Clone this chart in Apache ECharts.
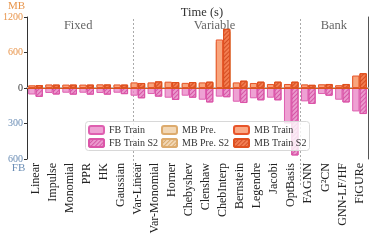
<!DOCTYPE html>
<html>
<head>
<meta charset="utf-8">
<script src="https://cdn.jsdelivr.net/npm/echarts@6/dist/echarts.min.js"></script>
<style>html,body{margin:0;padding:0;background:#fff}#c{width:372px;height:241px}</style>
</head>
<body>
<div id="c"></div>
<script>
const categories = ['Linear','Impulse','Monomial','PPR','HK','Gaussian','Var-Linear','Var-Monomial','Horner','Chebyshev','Clenshaw','ChebInterp','Bernstein','Legendre','Jacobi','OptBasis','FAGNN','G\u00b2CN','GNN-LF/HF','FiGURe'];
const mbTrain   = [45, 60, 58, 58, 62, 60, 95, 95, 107, 87, 95, 820, 95, 85, 68, 68, 61, 63, 47, 211];
const mbTrainS2 = [50, 58, 58, 58, 60, 58, 85, 112, 101, 101, 107, 1000, 124, 107, 107, 107, 54, 68, 68, 250];
const mbPre     = [40, 52, 50, 50, 55, 52, 85, 85, 95, 78, 85, 780, 85, 75, 60, 60, 55, 55, 40, 195];
const mbPreS2   = [44, 50, 50, 50, 52, 50, 76, 100, 92, 92, 96, 960, 112, 96, 96, 96, 48, 60, 60, 232];
const fbTrain   = [55, 42, 40, 40, 42, 40, 65, 51, 82, 65, 99, 73, 116, 87, 82, 300, 113, 51, 99, 198];
const fbTrainS2 = [75, 55, 56, 56, 56, 52, 87, 73, 101, 82, 122, 78, 127, 104, 104, 570, 135, 65, 122, 220];
const groups = [['Fixed','Linear','Gaussian'],['Variable','Var-Linear','OptBasis'],['Bank','FAGNN','FiGURe']];
const dividers = [5.75, 15.5];
const mbMax = 1200, fbMax = 600;
const fbScale = mbMax / fbMax;

const FONT = 'Liberation Serif';
const hatch = (c) => ({symbol:'rect', symbolSize:1, dashArrayX:[1,0], dashArrayY:[1,1.6], rotation:-Math.PI/4, color:c});

const fbTrainNeg = fbTrain.map(v => -v * fbScale);
const fbTrainS2Neg = fbTrainS2.map(v => -v * fbScale);

const barW = 7.3;
const base = {type:'bar', barWidth:barW, barGap:'0%', barCategoryGap:'12%'};

const chart = echarts.init(document.getElementById('c'), null, {renderer:'canvas'});
chart.setOption({
  animation:false,
  textStyle:{fontFamily:FONT},
  title:{text:'Time (s)', left:197, textAlign:'center', top:1, textStyle:{fontFamily:FONT, fontSize:12.5, fontWeight:'normal', color:'#333'}},
  grid:[{left:27, right:4, top:17, bottom:82, containLabel:false},
        {left:27, right:4, top:17, bottom:56, containLabel:false}],
  xAxis:[
    {type:'category', gridIndex:0, data:categories, position:'bottom',
     axisLine:{lineStyle:{color:'#333', width:1}}, axisTick:{show:true, length:2, alignWithLabel:true, lineStyle:{color:'#333'}},
     axisLabel:{rotate:90, interval:0, fontSize:12, color:'#222', fontFamily:FONT, margin:4}},
    {type:'category', gridIndex:0, data:categories, position:'top',
     axisLine:{show:true, lineStyle:{color:'#b5b5b5', width:2}}, axisTick:{show:false}, axisLabel:{show:false}},
    {type:'value', gridIndex:1, min:-0.5, max:categories.length-0.5, show:false}
  ],
  yAxis:[
    {type:'value', gridIndex:0, min:-mbMax, max:mbMax, interval:600, name:'MB', nameLocation:'end', nameGap:2,
     nameTextStyle:{color:'#e8944a', fontFamily:FONT, fontSize:11, align:'center', padding:[0,21,0,0]},
     axisLine:{show:true, lineStyle:{color:'#333'}}, axisTick:{show:true, length:3, lineStyle:{color:'#333'}},
     splitLine:{show:false},
     axisLabel:{fontFamily:FONT, fontSize:10, margin:4,
       formatter:(v)=> v>0 ? '{mb|'+v+'}' : (v<0 ? '{fb|'+(-v/fbScale)+'}' : '{z|0}'),
       rich:{mb:{color:'#e8944a', fontFamily:FONT, fontSize:10}, fb:{color:'#6a8db5', fontFamily:FONT, fontSize:10}, z:{color:'#333', fontFamily:FONT, fontSize:10}}}},
    {type:'value', gridIndex:0, min:-mbMax, max:mbMax, position:'right',
     axisLine:{show:true, lineStyle:{color:'#555'}}, axisTick:{show:false}, axisLabel:{show:false}, splitLine:{show:false}},
    {type:'value', gridIndex:1, min:0, max:1, show:false},
    {type:'value', gridIndex:0, min:-mbMax, max:mbMax, position:'left', name:'FB', nameLocation:'start', nameGap:4,
     nameTextStyle:{color:'#6a8db5', fontFamily:FONT, fontSize:11, align:'center', padding:[0,17,0,0]},
     axisLine:{show:false}, axisTick:{show:false}, axisLabel:{show:false}, splitLine:{show:false}}
  ],
  legend:[
    {orient:'vertical', left:88, top:125, itemGap:3, itemWidth:15, itemHeight:8, data:['FB Train','FB Train S2'],
     textStyle:{fontFamily:FONT, fontSize:10, color:'#333'}, padding:0, z:5},
    {orient:'vertical', left:161, top:125, itemGap:3, itemWidth:15, itemHeight:8, data:['MB Pre.','MB Pre. S2'],
     textStyle:{fontFamily:FONT, fontSize:10, color:'#333'}, padding:0, z:5},
    {orient:'vertical', left:233, top:125, itemGap:3, itemWidth:15, itemHeight:8, data:['MB Train','MB Train S2'],
     textStyle:{fontFamily:FONT, fontSize:10, color:'#333'}, padding:0, z:5}
  ],
  graphic:[{type:'rect', left:85, top:121, shape:{width:224, height:29, r:3}, z:4,
            style:{fill:'rgba(255,255,255,0.8)', stroke:'#d8d8d8', lineWidth:1}}],
  series:[
    Object.assign({}, base, {name:'MB Pre.', xAxisIndex:1, yAxisIndex:0, stack:'p1', data:mbPre, z:1,
      itemStyle:{color:'rgba(236,198,150,0.7)', borderColor:'#ddab6d', borderWidth:1}}),
    Object.assign({}, base, {name:'MB Pre. S2', xAxisIndex:1, yAxisIndex:0, stack:'p2', data:mbPreS2, z:1,
      itemStyle:{color:'rgba(236,198,150,0.7)', borderColor:'#ddab6d', borderWidth:1, decal:hatch('rgba(200,140,60,0.6)')}}),
    Object.assign({}, base, {name:'FB Train', xAxisIndex:0, yAxisIndex:0, stack:'a', data:fbTrainNeg, z:2,
      itemStyle:{color:'rgba(232,130,196,0.75)', borderColor:'#df5fb0', borderWidth:1}}),
    Object.assign({}, base, {name:'MB Train', xAxisIndex:0, yAxisIndex:0, stack:'a', data:mbTrain, z:2,
      itemStyle:{color:'rgba(250,160,120,0.9)', borderColor:'#e8552a', borderWidth:1},
      markArea:{silent:true, itemStyle:{color:'rgba(0,0,0,0)'},
        label:{position:'insideTop', distance:2, fontFamily:FONT, fontSize:12.5, color:'#666'},
        data: groups.map(g => [{name:g[0], xAxis:g[1]}, {xAxis:g[2]}])}}),
    Object.assign({}, base, {name:'FB Train S2', xAxisIndex:0, yAxisIndex:0, stack:'b', data:fbTrainS2Neg, z:2,
      itemStyle:{color:'rgba(228,120,190,0.75)', borderColor:'#db55a8', borderWidth:1, decal:hatch('rgba(205,60,150,0.7)')}}),
    Object.assign({}, base, {name:'MB Train S2', xAxisIndex:0, yAxisIndex:0, stack:'b', data:mbTrainS2, z:2,
      itemStyle:{color:'rgba(242,120,75,0.95)', borderColor:'#e0501f', borderWidth:1, decal:hatch('rgba(200,60,20,0.7)')},
      markLine:{silent:true, symbol:'none', z:6, label:{show:false},
        lineStyle:{color:'#d9541e', width:1, type:'solid'}, data:[{yAxis:0}]}}),
    {type:'line', xAxisIndex:2, yAxisIndex:2, data:[], silent:true,
     markLine:{silent:true, symbol:'none', label:{show:false}, z:1,
       lineStyle:{color:'#aaa', width:1, type:[2,2]}, data: dividers.map(d => ({xAxis:d}))}}
  ]
});
</script>
</body>
</html>
